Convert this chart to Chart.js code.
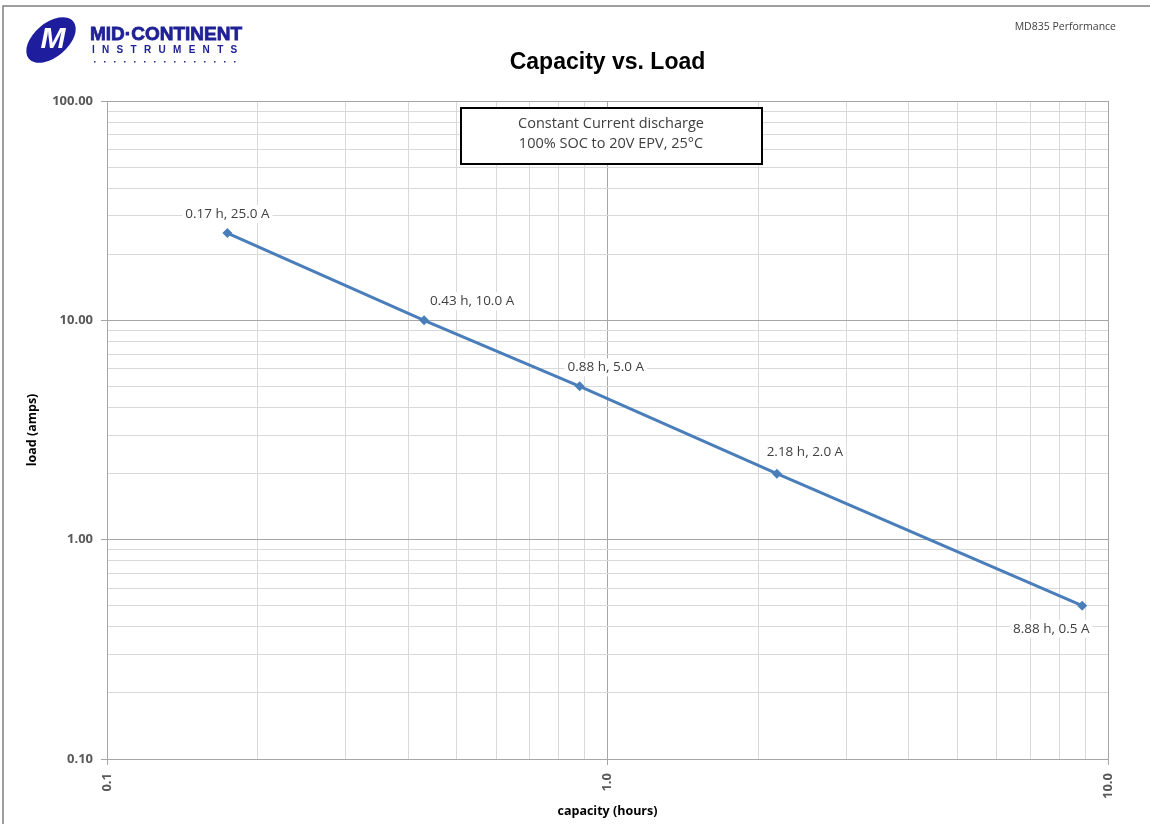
<!DOCTYPE html>
<html>
<head>
<meta charset="utf-8">
<script src="https://cdn.jsdelivr.net/npm/chart.js@4.4.1/dist/chart.umd.min.js"></script>
<style>
  html, body { margin: 0; padding: 0; background: #fff; }
  #wrap { position: relative; width: 1150px; height: 824px; }
</style>
</head>
<body>
<div id="wrap"><canvas id="chart" width="1150" height="824"></canvas></div>
<script>
// capacity (hours) vs load (amps)
const capacityHours = [0.174, 0.43, 0.88, 2.18, 8.88]
const loadAmps = [25.0, 10.0, 5.0, 2.0, 0.5]

// axis decades + labels
const xDecades = [0.1, 1, 10]
const xTickLabels = ['0.1', '1.0', '10.0']
const yDecades = [0.1, 1, 10, 100]
const yTickLabels = ['0.10', '1.00', '10.00', '100.00']
const minorSteps = [2, 3, 4, 5, 6, 7, 8, 9]

const chartTitle = 'Capacity vs. Load'
const noteLines = ['Constant Current discharge', '100% SOC to 20V EPV, 25°C']
const cornerText = 'MD835 Performance'

// where each point label sits relative to its marker
const labelPlacement = [
    {dx: 0, dy: -19},
    {dx: 48, dy: -19},
    {dx: 26, dy: -19},
    {dx: 28, dy: -21},
    {dx: -31, dy: 23}
]

const BLUE = '#4a7ebb'
const TEXT = '#595959'

function logTicks(decades) {
    let out = []
    decades.forEach((d, i) => {
        out.push(d)
        if (i < decades.length - 1) minorSteps.forEach(m => out.push(+(d * m).toPrecision(3)))
    })
    return out
}

function isDecade(v, decades) {
    return decades.some(d => Math.abs(d - v) < d * 1e-6)
}

const pointLabels = {
    id: 'pointLabels',
    afterDatasetsDraw(chart) {
        const ctx = chart.ctx
        const meta = chart.getDatasetMeta(0)
        ctx.save()
        ctx.font = '13.5px "Open Sans"'
        ctx.textAlign = 'center'
        ctx.textBaseline = 'middle'
        meta.data.forEach((pt, i) => {
            const txt = capacityHours[i].toFixed(2) + ' h, ' + loadAmps[i].toFixed(1) + ' A'
            const p = labelPlacement[i]
            const x = pt.x + p.dx, y = pt.y + p.dy
            const w = ctx.measureText(txt).width
            ctx.fillStyle = '#fff'
            ctx.fillRect(x - w / 2 - 3, y - 9, w + 6, 18)
            ctx.fillStyle = '#404040'
            ctx.fillText(txt, x, y)
        })
        ctx.restore()
    }
}

const decorations = {
    id: 'decorations',
    afterDraw(chart) {
        const ctx = chart.ctx
        const area = chart.chartArea
        ctx.save()

        // page frame
        ctx.strokeStyle = '#7f7f7f'
        ctx.lineWidth = 1.5
        ctx.beginPath()
        ctx.moveTo(3, 824)
        ctx.lineTo(3, 6)
        ctx.lineTo(1150, 6)
        ctx.stroke()

        // logo
        ctx.save()
        ctx.translate(51, 40)
        ctx.rotate(-0.7)
        ctx.fillStyle = '#1d1d9e'
        ctx.beginPath()
        ctx.ellipse(0, 0, 29, 17, 0, 0, Math.PI * 2)
        ctx.fill()
        ctx.restore()
        ctx.fillStyle = '#fff'
        ctx.font = 'italic bold 30px "Liberation Sans"'
        ctx.textAlign = 'center'
        ctx.textBaseline = 'middle'
        ctx.fillText('M', 53, 40)

        ctx.fillStyle = '#1f2196'
        ctx.strokeStyle = '#1f2196'
        ctx.lineWidth = 0.8
        ctx.textAlign = 'left'
        ctx.textBaseline = 'alphabetic'
        ctx.font = 'bold 19px "Liberation Sans"'
        ctx.fillText('MID·CONTINENT', 90, 40)
        ctx.strokeText('MID·CONTINENT', 90, 40)
        ctx.font = 'bold 10px "Liberation Sans"'
        ctx.letterSpacing = '7.3px'
        ctx.fillText('INSTRUMENTS', 92, 53)
        ctx.letterSpacing = '0px'
        for (let x = 94; x <= 240; x += 10) {
            ctx.fillRect(x, 61, 1.5, 1.5)
        }

        // corner label
        ctx.fillStyle = '#404040'
        ctx.font = '10.5px "Open Sans"'
        ctx.textAlign = 'right'
        ctx.fillText(cornerText, 1116, 30)

        // title
        ctx.fillStyle = '#000'
        ctx.font = 'bold 23px "Liberation Sans"'
        ctx.textAlign = 'center'
        ctx.fillText(chartTitle, (area.left + area.right) / 2, 69)

        // note box
        ctx.fillStyle = '#fff'
        ctx.fillRect(461, 108, 301, 56)
        ctx.strokeStyle = '#000'
        ctx.lineWidth = 2
        ctx.strokeRect(461, 108, 301, 56)
        ctx.fillStyle = '#404040'
        ctx.font = '14.5px "Open Sans"'
        ctx.textBaseline = 'middle'
        ctx.fillText(noteLines[0], 611, 124)
        ctx.fillText(noteLines[1], 611, 144)

        ctx.restore()
    }
}

const gridColor = decades => ctx => {
    if (!ctx.tick) return '#d9d9d9'
    return isDecade(ctx.tick.value, decades) ? '#a6a6a6' : '#d9d9d9'
}
const tickMarkColor = decades => ctx => {
    if (!ctx.tick) return 'rgba(0,0,0,0)'
    return isDecade(ctx.tick.value, decades) ? '#a6a6a6' : 'rgba(0,0,0,0)'
}

const config = {
    type: 'line',
    data: {
        datasets: [{
            data: capacityHours.map((x, i) => ({x: x, y: loadAmps[i]})),
            borderColor: BLUE,
            backgroundColor: BLUE,
            borderWidth: 3,
            pointStyle: 'rectRot',
            pointRadius: 5,
            pointBorderWidth: 0,
            pointBackgroundColor: BLUE,
            tension: 0
        }]
    },
    options: {
        responsive: false,
        animation: false,
        layout: {padding: {left: 20, top: 101, right: 42, bottom: 0}},
        plugins: {
            legend: {display: false},
            tooltip: {enabled: false},
            title: {display: false}
        },
        scales: {
            x: {
                type: 'logarithmic',
                min: 0.1,
                max: 10,
                afterBuildTicks: scale => { scale.ticks = logTicks(xDecades).map(v => ({value: v})) },
                afterFit: scale => { scale.height = 65 },
                ticks: {
                    autoSkip: false,
                    minRotation: 90,
                    maxRotation: 90,
                    padding: 8,
                    color: TEXT,
                    font: {family: 'Open Sans', size: 13, weight: 'bold'},
                    callback: v => {
                        const i = xDecades.findIndex(d => Math.abs(d - v) < d * 1e-6)
                        return i >= 0 ? xTickLabels[i] : ''
                    }
                },
                grid: {
                    color: gridColor(xDecades),
                    tickColor: tickMarkColor(xDecades),
                    tickLength: 6,
                    lineWidth: 1
                },
                border: {color: '#a6a6a6'},
                title: {
                    display: true,
                    text: 'capacity (hours)',
                    color: '#000',
                    padding: {top: 0, bottom: 5},
                    font: {family: 'Open Sans', size: 12.5, weight: 'bold'}
                }
            },
            y: {
                type: 'logarithmic',
                min: 0.1,
                max: 100,
                afterBuildTicks: scale => { scale.ticks = logTicks(yDecades).map(v => ({value: v})) },
                afterFit: scale => { scale.width = 87 },
                ticks: {
                    autoSkip: false,
                    padding: 8,
                    color: TEXT,
                    font: {family: 'Open Sans', size: 13, weight: 'bold'},
                    callback: v => {
                        const i = yDecades.findIndex(d => Math.abs(d - v) < d * 1e-6)
                        return i >= 0 ? yTickLabels[i] : ''
                    }
                },
                grid: {
                    color: gridColor(yDecades),
                    tickColor: tickMarkColor(yDecades),
                    tickLength: 6,
                    lineWidth: 1
                },
                border: {color: '#a6a6a6'},
                title: {
                    display: true,
                    text: 'load (amps)',
                    color: '#000',
                    padding: {top: 5, bottom: 0},
                    font: {family: 'Open Sans', size: 12.5, weight: 'bold'}
                }
            }
        }
    },
    plugins: [pointLabels, decorations]
}

const mychart = new Chart(document.getElementById('chart'), config)
</script>
</body>
</html>
